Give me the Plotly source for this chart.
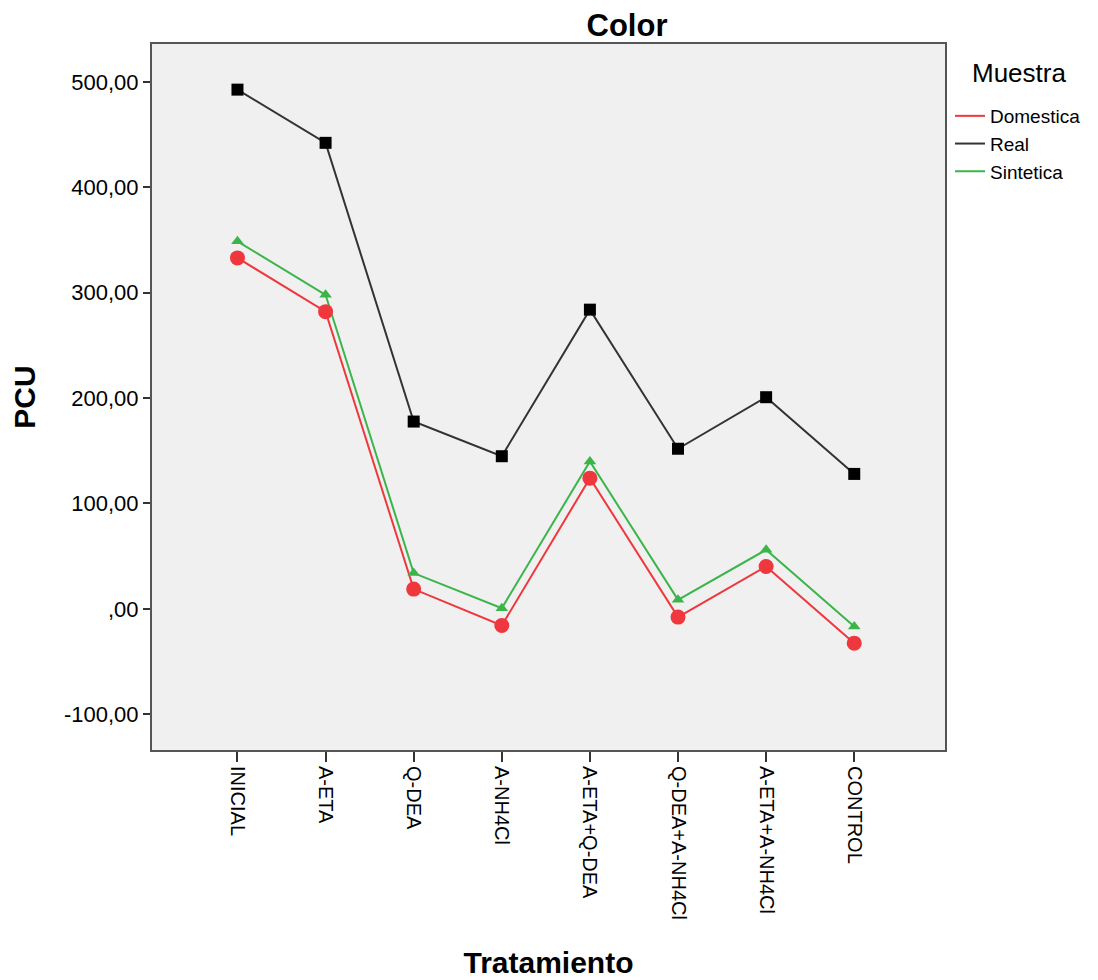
import plotly.graph_objects as go

categories = ["INICIAL", "A-ETA", "Q-DEA", "A-NH4Cl", "A-ETA+Q-DEA",
              "Q-DEA+A-NH4Cl", "A-ETA+A-NH4Cl", "CONTROL"]
domestica = [333, 282, 18.7, -15.8, 124, -7.9, 40.2, -32.6]
real = [492.7, 442.2, 177.7, 144.8, 283.9, 151.9, 200.8, 128]
sintetica = [348.7, 298, 33.9, 0.6, 139.9, 8.5, 56, -16.8]
y_ticks = [-100, 0, 100, 200, 300, 400, 500]
y_tick_labels = ["-100,00", ",00", "100,00", "200,00", "300,00", "400,00", "500,00"]
legend_title = "Muestra"

x_idx = list(range(len(categories)))

series = [
    ("Domestica", domestica, "#ee383e", "circle", 15),
    ("Real", real, "#333333", "square", 12),
    ("Sintetica", sintetica, "#3bb54a", "triangle-up", 11),
]
marker_colors = {"Domestica": "#ee383e", "Real": "#000000", "Sintetica": "#3bb54a"}

FONT = "Liberation Sans, Arial, sans-serif"
W, H = 1090, 972
L, R, T, B = 144, 153, 36, 230
plot_w = W - L - R
plot_h = H - T - B

fig = go.Figure()
for name, vals, color, sym, size in series:
    fig.add_trace(go.Scatter(
        x=x_idx, y=vals, mode="lines", name=name,
        line=dict(color=color, width=2),
    ))
for name, vals, color, sym, size in series:
    fig.add_trace(go.Scatter(
        x=x_idx, y=vals, mode="markers", name=name, showlegend=False,
        marker=dict(color=marker_colors[name], symbol=sym, size=size, line=dict(width=0)),
    ))

fig.add_annotation(
    text=legend_title, xref="paper", yref="paper",
    x=1.0 + (1011 - (L + plot_w)) / plot_w, xanchor="center",
    y=1.0 - (65 - T) / plot_h, yanchor="middle",
    showarrow=False, font=dict(size=26, family=FONT, color="#000000"),
)

fig.update_layout(
    width=W, height=H,
    margin=dict(l=L, r=R, t=T, b=B, autoexpand=False),
    paper_bgcolor="white",
    plot_bgcolor="#f0f0f0",
    font=dict(family=FONT, size=20, color="#000000"),
    title=dict(text="<b>Color</b>", x=619 / W, xanchor="center", y=1 - 17 / H,
               yanchor="middle", font=dict(size=31, color="#000000")),
    showlegend=True,
    legend=dict(
        x=1.0 + 5 / plot_w, xanchor="left", y=1.0 - 53 / plot_h, yanchor="top",
        bgcolor="rgba(0,0,0,0)",
        font=dict(size=19),
        tracegroupgap=0,
        itemwidth=30,
    ),
    xaxis=dict(
        range=[-0.97, 8.03], automargin=False,
        tickmode="array", tickvals=x_idx, ticktext=categories,
        tickangle=90, ticks="outside", ticklen=10, tickcolor="#333333", tickwidth=1.5,
        showgrid=False, zeroline=False,
        showline=True, linecolor="#555555", linewidth=2, mirror=True,
        tickfont=dict(size=20),
        title=dict(text="<b>Tratamiento</b>", font=dict(size=30), standoff=33),
    ),
    yaxis=dict(
        range=[-134, 536], automargin=False,
        tickmode="array", tickvals=y_ticks, ticktext=y_tick_labels,
        ticks="outside", ticklen=7, tickcolor="#333333", tickwidth=1.5,
        showgrid=False, zeroline=False,
        showline=True, linecolor="#555555", linewidth=2, mirror=True,
        tickfont=dict(size=22),
        title=dict(text="<b>PCU</b>", font=dict(size=30), standoff=24),
    ),
)

fig.write_html("out.html")
